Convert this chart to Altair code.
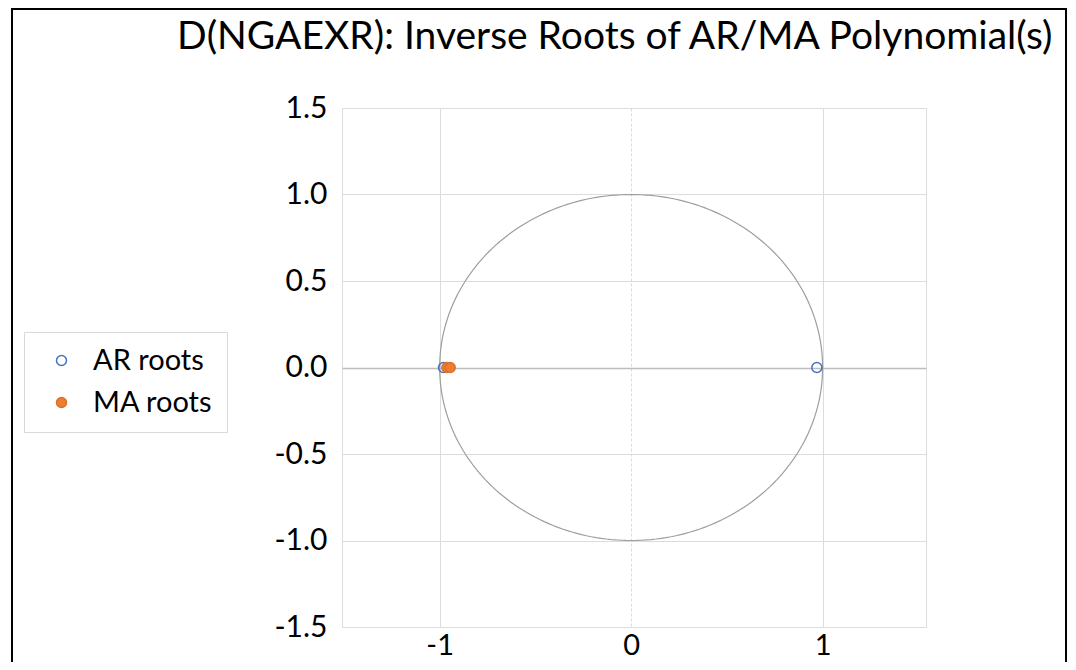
import numpy as np
import pandas as pd
import altair as alt

TITLE = "D(NGAEXR): Inverse Roots of AR/MA Polynomial(s)"
SERIES = ["AR roots", "MA roots"]
AR_REAL = [-0.98, 0.97]
AR_IMAG = [0.0, 0.0]
MA_REAL = [-0.962, -0.945]
MA_IMAG = [0.0, 0.0]
X_TICKS = [-1, 0, 1]
Y_TICKS = [-1.5, -1.0, -0.5, 0.0, 0.5, 1.0, 1.5]
STROKES = ["#4472C4", "#D9712B"]
FILLS = ["transparent", "#ED7D31"]

FONT = "Lato"

# unit circle (reference geometry)
angles = np.linspace(0, 2 * np.pi, 241)
circle = pd.DataFrame({"re": np.cos(angles), "im": np.sin(angles), "k": np.arange(len(angles))})

roots = pd.DataFrame({
    "re": AR_REAL + MA_REAL,
    "im": AR_IMAG + MA_IMAG,
    "series": [SERIES[0]] * len(AR_REAL) + [SERIES[1]] * len(MA_REAL),
})

W, H = 584, 519
x_scale = alt.Scale(domain=[-1.51, 1.54], nice=False, zero=False)
y_scale = alt.Scale(domain=[-1.5, 1.5], nice=False, zero=False)

x_axis = alt.Axis(
    values=X_TICKS, title=None, domain=False, ticks=False, format="d",
    labelExpr="replace(datum.label, '\u2212', '-')",
    labelFontSize=29, labelFont=FONT, labelColor="black", labelPadding=4,
    gridColor="#DCDCDC", gridWidth=1,
    gridDash={"condition": {"test": "datum.value === 0", "value": [3, 2]}, "value": []},
)
y_axis = alt.Axis(
    values=Y_TICKS, title=None, domain=False, ticks=False, format=".1f",
    labelExpr="replace(datum.label, '\u2212', '-')",
    labelFontSize=30, labelFont=FONT, labelColor="black", labelPadding=15,
    gridColor={"condition": {"test": "datum.value === 0", "value": "#BDBDBD"}, "value": "#DCDCDC"},
    gridWidth={"condition": {"test": "datum.value === 0", "value": 1.5}, "value": 1},
    gridOpacity={"condition": {"test": "abs(datum.value) > 1.4", "value": 0}, "value": 1},
)

circle_layer = alt.Chart(circle).mark_line(color="#9E9E9E", strokeWidth=1.2).encode(
    x=alt.X("re:Q", scale=x_scale, axis=x_axis),
    y=alt.Y("im:Q", scale=y_scale, axis=y_axis),
    order="k:Q",
)

legend = alt.Legend(
    title=None, orient="none", legendX=-318, legendY=224,
    padding=14, symbolOffset=9, labelOffset=17, rowPadding=12,
    labelFontSize=29, labelFont=FONT, labelColor="black",
    symbolSize=100, symbolStrokeWidth=1.5, symbolType="circle",
    strokeColor="#D9D9D9", fillColor="white",
)

points = alt.Chart(roots).mark_circle(size=100, opacity=1, strokeWidth=1.5).encode(
    x=alt.X("re:Q", scale=x_scale, axis=x_axis),
    y=alt.Y("im:Q", scale=y_scale, axis=y_axis),
    fill=alt.Fill("series:N", scale=alt.Scale(domain=SERIES, range=FILLS), legend=legend),
    stroke=alt.Stroke("series:N", scale=alt.Scale(domain=SERIES, range=STROKES), legend=legend),
)

one = pd.DataFrame({"d": [0]})
frame_left = alt.Chart(one).mark_rule(color="black", strokeWidth=2).encode(
    x=alt.value(-330), y=alt.value(-100), y2=alt.value(560))
frame_right = alt.Chart(one).mark_rule(color="black", strokeWidth=2).encode(
    x=alt.value(724), y=alt.value(-100), y2=alt.value(560))
frame_top = alt.Chart(one).mark_rule(color="black", strokeWidth=2).encode(
    x=alt.value(-331), x2=alt.value(725), y=alt.value(-99))

chart = alt.layer(circle_layer, points, frame_left, frame_right, frame_top).properties(
    width=W, height=H,
    title=alt.Title(TITLE, anchor="start", frame="group", dx=-165, offset=-81,
                    fontSize=39, font=FONT, fontWeight="normal", color="black",
                    baseline="alphabetic"),
    autosize=alt.AutoSizeParams(type="none"),
    padding={"left": 334, "top": 100, "right": 142, "bottom": 35},
).configure_view(stroke=None).configure(background="white")

chart.save("out.html", embed_options={"renderer": "svg", "actions": False})
